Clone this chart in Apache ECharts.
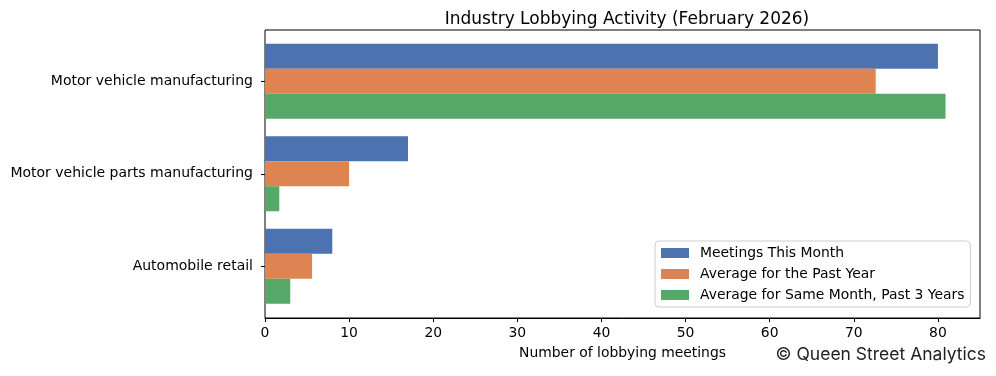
<!DOCTYPE html>
<html>
<head>
<meta charset="utf-8">
<script src="https://cdn.jsdelivr.net/npm/echarts@6/dist/echarts.min.js"></script>
<style>
  html, body { margin: 0; padding: 0; background: #fff; }
  #chart { width: 996px; height: 376px; }
</style>
</head>
<body>
<div id="chart"></div>
<script>
  const categories = ['Motor vehicle manufacturing', 'Motor vehicle parts manufacturing', 'Automobile retail']
  const seriesNames = ['Meetings This Month', 'Average for the Past Year', 'Average for Same Month, Past 3 Years']
  const thisMonth = [80, 17, 8]
  const pastYear = [72.6, 10, 5.6]
  const sameMonth3y = [80.9, 1.7, 3]
  const xTicks = { min: 0, max: 85, step: 10 }
  const colors = ['#4C72B0', '#DD8452', '#55A868']

  const font = 'DejaVu Sans'
  const dom = echarts.init(document.getElementById('chart'))

  const option = {
    animation: false,
    textStyle: { fontFamily: font },
    title: {
      text: 'Industry Lobbying Activity (February 2026)',
      left: 622, top: 6, textAlign: 'center',
      textStyle: { fontFamily: font, fontSize: 17, fontWeight: 'normal', color: '#000' }
    },
    // grid 0 = frame + x axis, grid 1 = bars (inset like matplotlib margins)
    grid: [
      { left: 265, right: 16, top: 30, bottom: 58, show: true, borderColor: '#000', borderWidth: 1 },
      { left: 265, right: 16, top: 35, bottom: 63.5 }
    ],
    legend: {
      orient: 'vertical',
      left: 655, top: 241,
      padding: [5, 6, 5, 6],
      itemWidth: 28, itemHeight: 10, itemGap: 7,
      borderColor: '#ccc', borderWidth: 1, borderRadius: 4,
      backgroundColor: '#fff',
      icon: 'rect',
      textStyle: { fontFamily: font, fontSize: 13.9, color: '#000', padding: [0, 0, 0, 6] },
      data: seriesNames
    },
    xAxis: [{
      type: 'value', gridIndex: 0, min: xTicks.min, max: xTicks.max, interval: xTicks.step,
      name: 'Number of lobbying meetings', nameLocation: 'middle', nameGap: 28,
      nameTextStyle: { fontFamily: font, fontSize: 13.9, color: '#000' },
      axisLine: { show: true, lineStyle: { color: '#000' } },
      axisTick: { show: true, length: 4, lineStyle: { color: '#000' } },
      axisLabel: { fontFamily: font, fontSize: 13.9, color: '#000', margin: 8, showMaxLabel: false },
      splitLine: { show: false }
    }, {
      type: 'value', gridIndex: 1, min: xTicks.min, max: xTicks.max, show: false
    }],
    yAxis: [{
      type: 'category', gridIndex: 0, data: categories, show: false
    }, {
      type: 'category', gridIndex: 1, data: categories, inverse: true,
      axisLine: { show: false },
      axisTick: { show: true, alignWithLabel: true, length: 4, lineStyle: { color: '#000' } },
      axisLabel: { fontFamily: font, fontSize: 14, color: '#000', margin: 12 }
    }],
    graphic: [{
      type: 'text', right: 10, top: 346,
      style: { text: '© Queen Street Analytics', font: '17.5px Inter', fill: '#222' }
    }],
    series: [thisMonth, pastYear, sameMonth3y].map((d, i) => ({
      name: seriesNames[i], type: 'bar', data: d,
      xAxisIndex: 1, yAxisIndex: 1,
      barWidth: 25, barGap: '0%',
      itemStyle: { color: colors[i] }
    }))
  }
  dom.setOption(option)
</script>
</body>
</html>
